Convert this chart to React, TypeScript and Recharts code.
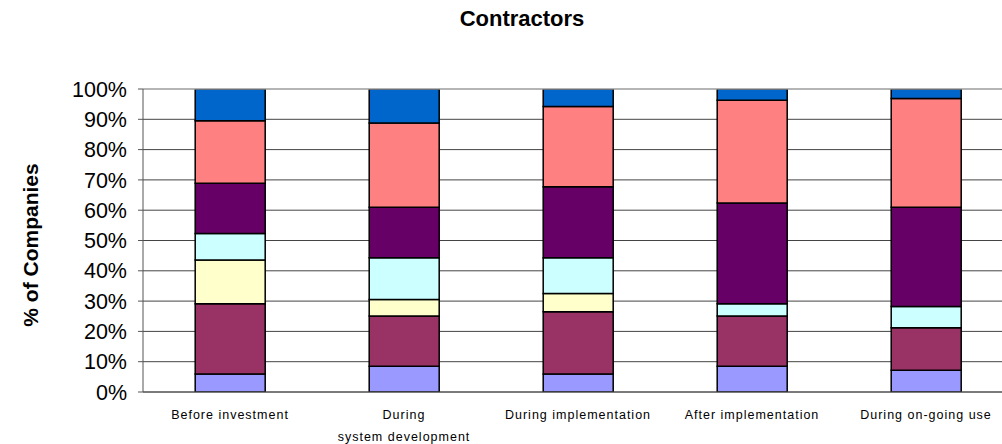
import React from "react";
import { Bar, BarChart, CartesianGrid, ReferenceLine, XAxis, YAxis } from "recharts";

const categories = [
  "Before investment",
  "During\nsystem development",
  "During implementation",
  "After implementation",
  "During on-going use",
];

// stacked shares (% of companies), bottom to top
const seriesA = [5.9, 8.5, 5.9, 8.5, 7.2];
const seriesB = [23.2, 16.6, 20.6, 16.6, 14.0];
const seriesC = [14.5, 5.4, 6.0, 0, 0];
const seriesD = [8.7, 13.8, 11.8, 4.0, 7.0];
const seriesE = [16.6, 16.7, 23.4, 33.3, 32.8];
const seriesF = [20.6, 27.8, 26.5, 33.9, 35.9];
const seriesG = [10.5, 11.2, 5.8, 3.7, 3.1];

const yTicks = [0, 10, 20, 30, 40, 50, 60, 70, 80, 90, 100];

const seriesKeys = ["a", "b", "c", "d", "e", "f", "g"];
const seriesColors = ["#9999FF", "#993366", "#FFFFCC", "#CCFFFF", "#660066", "#FF8080", "#0066CC"];

const data = categories.map((name, i) => ({
  name,
  a: seriesA[i],
  b: seriesB[i],
  c: seriesC[i],
  d: seriesD[i],
  e: seriesE[i],
  f: seriesF[i],
  g: seriesG[i],
}));

const font = "'Liberation Sans', Arial, sans-serif";

function CategoryTick(props: any) {
  const { x, y, payload } = props;
  const lines = String(payload.value).split("\n");
  return (
    <g transform={`translate(${x},${y})`}>
      {lines.map((line, i) => (
        <text
          key={i}
          x={0}
          y={i * 22}
          dy={19}
          textAnchor="middle"
          fontSize={12.5}
          letterSpacing={1}
          fontFamily={font}
          fill="#000"
        >
          {line}
        </text>
      ))}
    </g>
  );
}

export default function App() {
  return (
    <div style={{ position: "absolute", left: 0, top: 0, width: 1002, height: 444, overflow: "hidden", background: "#fff" }}>
      <div
        style={{
          position: "absolute",
          top: 6,
          left: 0,
          width: 1044,
          textAlign: "center",
          fontFamily: font,
          fontWeight: "bold",
          fontSize: 22,
        }}
      >
        Contractors
      </div>
      <div
        style={{
          position: "absolute",
          left: 31,
          top: 245,
          transform: "translate(-50%, -50%) rotate(-90deg)",
          whiteSpace: "nowrap",
          fontFamily: font,
          fontWeight: "bold",
          fontSize: 21,
        }}
      >
        % of Companies
      </div>
      <BarChart
        width={1020}
        height={444}
        data={data}
        margin={{ top: 89, right: 7, bottom: 0, left: 0 }}
        barCategoryGap="30%"
        style={{ position: "absolute", left: 0, top: 0 }}
      >
        <CartesianGrid vertical={false} stroke="#444" />
        <ReferenceLine y={100} stroke="#c8c8c8" />
        <XAxis
          dataKey="name"
          height={52}
          tick={<CategoryTick />}
          tickLine={false}
          axisLine={{ stroke: "#555" }}
          interval={0}
        />
        <YAxis
          width={143}
          domain={[0, 100]}
          ticks={yTicks}
          tickFormatter={(v: number) => `${v}%`}
          tick={{ fill: "#000", fontSize: 21.5, fontFamily: font }}
          tickSize={5}
          tickMargin={11}
          tickLine={{ stroke: "#555" }}
          axisLine={{ stroke: "#555" }}
          allowDataOverflow
        />
        {seriesKeys.map((k, i) => (
          <Bar
            key={k}
            dataKey={k}
            stackId="s"
            fill={seriesColors[i]}
            stroke="#000"
            strokeWidth={1.5}
            isAnimationActive={false}
          />
        ))}
      </BarChart>
    </div>
  );
}
